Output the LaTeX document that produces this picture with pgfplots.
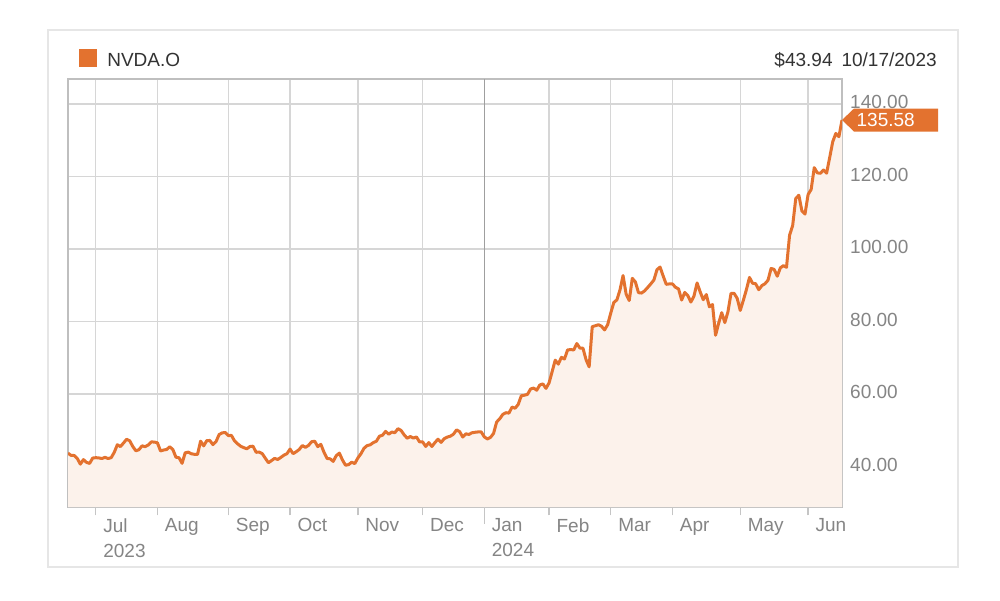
\documentclass[border=0pt]{standalone}
\usepackage{pgfplots}
\usepackage{pgfplotstable}
\pgfplotsset{compat=1.18}
\usepackage{fontspec}
\setmainfont{Liberation Sans}
\definecolor{nv}{HTML}{E3722F}
\definecolor{nvfill}{HTML}{FCF2EB}
\definecolor{gridc}{HTML}{D6D6D6}
\definecolor{labc}{HTML}{858585}
\definecolor{txt}{HTML}{333333}
\definecolor{frame}{HTML}{E6E6E6}

\pgfplotstableread{
i v
0 43.66
1 43.03
2 43.01
3 42.21
4 40.63
5 41.88
6 41.12
7 40.82
8 42.30
9 42.41
10 42.35
11 42.18
12 42.50
13 42.18
14 42.41
15 43.90
16 45.98
17 45.47
18 46.46
19 47.49
20 47.08
21 45.52
22 44.31
23 44.61
24 45.68
25 45.45
26 45.90
27 46.75
28 46.73
29 46.51
30 44.27
31 44.52
32 44.68
33 45.42
34 44.66
35 42.55
36 42.39
37 40.86
38 43.75
39 43.94
40 43.49
41 43.34
42 43.30
43 46.97
44 45.67
45 47.12
46 47.16
47 46.02
48 46.84
49 48.78
50 49.26
51 49.36
52 48.51
53 48.55
54 47.06
55 46.24
56 45.57
57 45.18
58 44.87
59 45.49
60 45.58
61 43.90
62 43.97
63 43.52
64 42.24
65 41.02
66 41.61
67 42.22
68 41.91
69 42.47
70 43.09
71 43.50
72 44.78
73 43.52
74 44.04
75 44.69
76 45.76
77 45.27
78 45.80
79 46.81
80 46.95
81 45.46
82 46.10
83 43.94
84 42.20
85 42.10
86 41.39
87 42.98
88 43.66
89 41.78
90 40.33
91 40.50
92 41.16
93 40.78
94 42.33
95 43.51
96 45.01
97 45.75
98 45.96
99 46.57
100 46.95
101 48.34
102 48.62
103 49.66
104 48.89
105 49.48
106 49.30
107 50.41
108 49.94
109 48.72
110 47.78
111 48.24
112 47.82
113 48.14
114 46.77
115 46.77
116 45.51
117 46.57
118 45.50
119 46.60
120 47.51
121 46.63
122 47.66
123 48.09
124 48.35
125 48.89
126 50.08
127 49.60
128 48.11
129 48.99
130 48.83
131 49.28
132 49.42
133 49.52
134 49.52
135 48.17
136 47.57
137 48.00
138 49.10
139 52.25
140 53.14
141 54.35
142 54.82
143 54.71
144 56.38
145 56.05
146 57.11
147 59.49
148 59.65
149 59.87
150 61.36
151 61.62
152 61.03
153 62.47
154 62.77
155 61.53
156 63.03
157 66.16
158 69.33
159 68.22
160 70.10
161 69.64
162 72.13
163 72.25
164 72.13
165 73.90
166 72.66
167 72.61
168 69.45
169 67.47
170 78.54
171 78.82
172 79.09
173 78.70
174 77.66
175 79.11
176 82.28
177 85.24
178 85.96
179 88.70
180 92.67
181 87.53
182 85.77
183 91.91
184 90.89
185 87.94
186 87.84
187 88.46
188 89.40
189 90.37
190 91.44
191 94.29
192 95.00
193 92.56
194 90.25
195 90.36
196 90.36
197 89.45
198 88.96
199 85.91
200 88.01
201 87.13
202 85.35
203 87.04
204 90.62
205 88.19
206 86.00
207 87.42
208 84.04
209 84.67
210 76.20
211 79.52
212 82.42
213 79.68
214 82.63
215 87.74
216 87.76
217 86.40
218 83.04
219 85.82
220 88.79
221 92.14
222 90.55
223 90.41
224 88.75
225 89.88
226 90.40
227 91.36
228 94.63
229 94.36
230 92.48
231 94.78
232 95.39
233 94.95
234 103.80
235 106.47
236 113.90
237 114.83
238 110.50
239 109.63
240 115.00
241 116.44
242 122.44
243 121.00
244 120.89
245 121.79
246 120.91
247 125.20
248 129.61
249 131.88
250 130.98
251 135.58
}\nvda

\newcommand{\lab}{\fontsize{11.4}{15}\selectfont}

\begin{document}
\begin{tikzpicture}[x=1pt,y=1pt]
\fill[white] (0,0) rectangle (600,360);
\draw[color=frame, line width=1.2pt] (28.8,19.8) rectangle (574.8,342);
\begin{axis}[
  at={(40.8pt,55.8pt)}, anchor=south west,
  scale only axis, width=464.4pt, height=256.8pt,
  xmin=0, xmax=251, ymin=28.8, ymax=146.9,
  axis line style={draw=gray!50, line width=0.8pt},
  grid=major,
  grid style={gridc, line width=0.8pt},
  xtick={9,29,52,72,94,115,135,156,176,196,218,240},
  xticklabels={Jul\\2023,Aug,Sep,Oct,Nov,Dec,Jan\\2024,Feb,Mar,Apr,May,Jun},
  xticklabel style={anchor=north west, align=left, font=\lab, text=labc, xshift=1.0pt, yshift=1.5pt},
  tick align=outside,
  major tick length=5pt,
  x tick style={gridc!80!gray, line width=0.8pt},
  xtick pos=bottom,
  extra x ticks={135},
  extra x tick labels={},
  extra x tick style={grid style={gray!75, line width=0.8pt}, major tick length=10pt, tick style={gray!75, line width=0.8pt}},
  ytick={40,60,...,140},
  ytick pos=right,
  yticklabel pos=right,
  y tick style={draw=none},
  yticklabel style={anchor=west, font=\lab, text=labc, xshift=-3.6pt, yshift=1pt,
    /pgf/number format/.cd, fixed, fixed zerofill, precision=2, assume math mode=true},
]
\addplot[fill=nvfill, draw=none] table[x=i, y=v] {\nvda} \closedcycle;
\addplot[nv, line width=1.8pt, line join=round] table[x=i, y=v] {\nvda};
\coordinate (tip) at (axis cs:251,135.58);
\end{axis}
\fill[nv] (tip) -- ++(7.2pt,6.9pt) -- ++(50.4pt,0) -- ++(0,-13.8pt) -- ++(-50.4pt,0) -- cycle;
\node[anchor=west, text=white, inner sep=0, font=\lab] at ([xshift=8.6pt]tip) {135.58};
\fill[nv] (47.4,319.8) rectangle (58.2,330.6);
\node[anchor=base west, text=txt, inner sep=0, font=\lab] at (64.2,320.4) {NVDA.O};
\node[anchor=base east, text=txt, inner sep=0, font=\lab] at (562.2,320.4) {\$43.94\hspace{5.4pt}10/17/2023};
\end{tikzpicture}
\end{document}
